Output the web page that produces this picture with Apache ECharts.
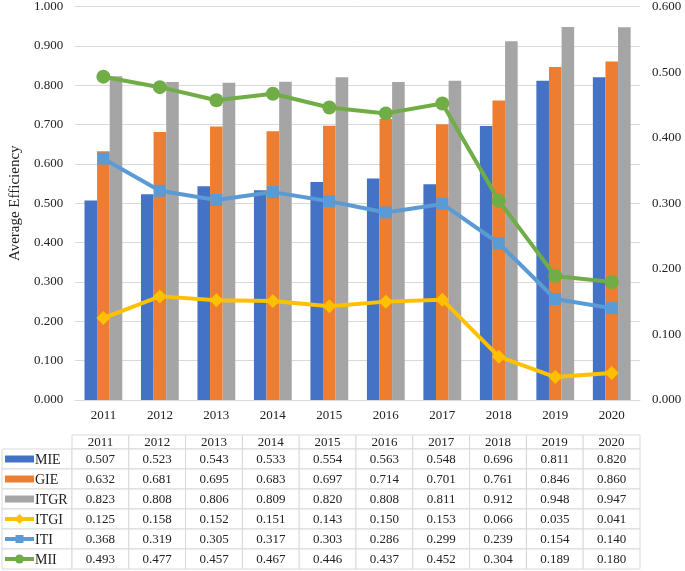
<!DOCTYPE html>
<html><head><meta charset="utf-8">
<script src="https://cdn.jsdelivr.net/npm/echarts@6/dist/echarts.min.js"></script>
<style>html,body{margin:0;padding:0;background:#fff}#c{width:685px;height:571px}</style>
</head><body><div id="c"></div>
<script>
const years = ['2011','2012','2013','2014','2015','2016','2017','2018','2019','2020'];
const MIE  = [0.507,0.523,0.543,0.533,0.554,0.563,0.548,0.696,0.811,0.820];
const GIE  = [0.632,0.681,0.695,0.683,0.697,0.714,0.701,0.761,0.846,0.860];
const ITGR = [0.823,0.808,0.806,0.809,0.820,0.808,0.811,0.912,0.948,0.947];
const ITGI = [0.125,0.158,0.152,0.151,0.143,0.150,0.153,0.066,0.035,0.041];
const ITI  = [0.368,0.319,0.305,0.317,0.303,0.286,0.299,0.239,0.154,0.140];
const MII  = [0.493,0.477,0.457,0.467,0.446,0.437,0.452,0.304,0.189,0.180];

const FONT = '"Liberation Serif","Times New Roman",serif';
const colors = {MIE:'#4472C4',GIE:'#ED7D31',ITGR:'#A5A5A5',ITGI:'#FFC000',ITI:'#5B9BD5',MII:'#70AD47'};
const rows = [
  {name:'MIE', data:MIE, type:'bar'},
  {name:'GIE', data:GIE, type:'bar'},
  {name:'ITGR', data:ITGR, type:'bar'},
  {name:'ITGI', data:ITGI, type:'line', sym:'diamond'},
  {name:'ITI', data:ITI, type:'line', sym:'rect'},
  {name:'MII', data:MII, type:'line', sym:'circle'}
];

const gridL = 72, gridR = 640, gridT = 6, gridB = 400;
const colW = (gridR - gridL) / years.length;
const tableTop = 435, headH = 14, rowH = 20, legendL = 2;
const border = '#d9d9d9';

const chart = echarts.init(document.getElementById('c'));
const graphics = [];
years.forEach((y, i) => {
  graphics.push({type:'rect', shape:{x:gridL+i*colW, y:tableTop, width:colW, height:headH},
    style:{fill:'#fff', stroke:border, lineWidth:1}});
  graphics.push({type:'text', x:gridL+i*colW+colW/2, y:tableTop+headH/2+1,
    style:{text:y, font:'13px '+FONT, fill:'#222', align:'center', verticalAlign:'middle'}});
});
rows.forEach((r, ri) => {
  const y0 = tableTop + headH + ri*rowH;
  graphics.push({type:'rect', shape:{x:legendL, y:y0, width:gridL-legendL, height:rowH},
    style:{fill:'#fff', stroke:border, lineWidth:1}});
  const c = colors[r.name];
  const cy = y0 + rowH/2;
  if (r.type === 'bar') {
    graphics.push({type:'rect', shape:{x:5, y:cy-3.5, width:29, height:7}, style:{fill:c}});
  } else {
    graphics.push({type:'line', shape:{x1:5, y1:cy, x2:34, y2:cy}, style:{stroke:c, lineWidth:4}});
    if (r.sym === 'circle') graphics.push({type:'circle', shape:{cx:19.5, cy:cy, r:4.5}, style:{fill:c}});
    else if (r.sym === 'rect') graphics.push({type:'rect', shape:{x:15.5, y:cy-4, width:8, height:8}, style:{fill:c}});
    else graphics.push({type:'polygon', shape:{points:[[19.5,cy-5],[24.5,cy],[19.5,cy+5],[14.5,cy]]}, style:{fill:c}});
  }
  graphics.push({type:'text', x:35, y:cy+1,
    style:{text:r.name, font:'14px '+FONT, fill:'#222', align:'left', verticalAlign:'middle'}});
  r.data.forEach((v, i) => {
    graphics.push({type:'rect', shape:{x:gridL+i*colW, y:y0, width:colW, height:rowH},
      style:{fill:'#fff', stroke:border, lineWidth:1}});
    graphics.push({type:'text', x:gridL+i*colW+colW/2, y:cy+1,
      style:{text:v.toFixed(3), font:'13px '+FONT, fill:'#222', align:'center', verticalAlign:'middle'}});
  });
});

const series = rows.map(r => {
  if (r.type === 'bar') return {name:r.name, type:'bar', data:r.data, yAxisIndex:0,
    barWidth:12.6, barGap:'0%', itemStyle:{color:colors[r.name]}, z:2};
  return {name:r.name, type:'line', data:r.data, yAxisIndex:1, symbol:r.sym,
    symbolSize: r.sym==='circle'?14:(r.sym==='rect'?12:14),
    lineStyle:{color:colors[r.name], width:4}, itemStyle:{color:colors[r.name]}, z:3};
});

chart.setOption({
  animation:false,
  textStyle:{fontFamily:FONT},
  grid:{left:gridL, right:685-gridR, top:gridT, bottom:571-gridB, containLabel:false},
  xAxis:{type:'category', data:years,
    axisLine:{lineStyle:{color:'#d9d9d9'}}, axisTick:{show:false},
    axisLabel:{fontFamily:FONT, fontSize:13, color:'#222', margin:9}},
  yAxis:[
    {type:'value', min:0, max:1, interval:0.1, name:'Average Efficiency', nameLocation:'middle', nameGap:50,
      nameTextStyle:{fontFamily:FONT, fontSize:15, color:'#222'},
      axisLine:{show:false}, axisTick:{show:false},
      splitLine:{lineStyle:{color:'#d9d9d9'}},
      axisLabel:{fontFamily:FONT, fontSize:13, color:'#222', margin:12, formatter:v=>v.toFixed(3)}},
    {type:'value', min:0, max:0.6, interval:0.1, position:'right',
      axisLine:{show:false}, axisTick:{show:false}, splitLine:{show:false},
      axisLabel:{fontFamily:FONT, fontSize:13, color:'#222', margin:12, formatter:v=>v.toFixed(3)}}
  ],
  series: series,
  graphic: graphics
});
</script></body></html>
